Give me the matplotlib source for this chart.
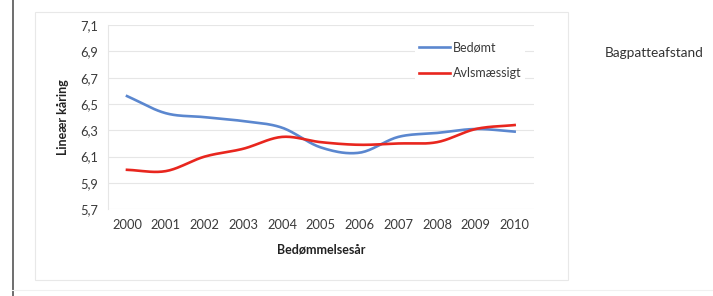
import matplotlib.pyplot as plt
import numpy as np
import matplotlib as mpl

###--- Data ---###
years = [2000, 2001, 2002, 2003, 2004, 2005, 2006, 2007, 2008, 2009, 2010]
bedomt = [6.56, 6.43, 6.40, 6.37, 6.32, 6.17, 6.13, 6.25, 6.28, 6.31, 6.29]
avl = [6.00, 5.99, 6.10, 6.16, 6.25, 6.21, 6.19, 6.20, 6.21, 6.31, 6.34]
yticks = [5.7, 5.9, 6.1, 6.3, 6.5, 6.7, 6.9, 7.1]


def smooth(x, y, n=20):
    # Catmull-Rom curve through the points (like Excel's smoothed line)
    x = np.asarray(x, float)
    y = np.asarray(y, float)
    px = np.concatenate([[2 * x[0] - x[1]], x, [2 * x[-1] - x[-2]]])
    py = np.concatenate([[2 * y[0] - y[1]], y, [2 * y[-1] - y[-2]]])
    t = np.linspace(0, 1, n, endpoint=False)
    xs, ys = [], []
    for i in range(1, len(px) - 2):
        for p, out in ((px, xs), (py, ys)):
            p0, p1, p2, p3 = p[i - 1], p[i], p[i + 1], p[i + 2]
            out.extend(0.5 * (2 * p1 + (-p0 + p2) * t
                              + (2 * p0 - 5 * p1 + 4 * p2 - p3) * t ** 2
                              + (-p0 + 3 * p1 - 3 * p2 + p3) * t ** 3))
    xs.append(x[-1])
    ys.append(y[-1])
    return np.array(xs), np.array(ys)


plt.rcParams['font.family'] = ['Lato', 'DejaVu Sans']

W, H = 713, 296
fig = plt.figure(figsize=(W / 100, H / 100), dpi=100)
ax = fig.add_axes([107.6 / W, 1 - 209.3 / H, (534 - 107.6) / W, (209.3 - 25) / H])

# outer chart frame and the scanned page edge
fig.add_artist(mpl.patches.Rectangle((35 / W, 1 - 280 / H), (568 - 35) / W, (280 - 12) / H,
                                     transform=fig.transFigure, fill=False,
                                     edgecolor='#e8e8e8', lw=0.8))
fig.add_artist(mpl.lines.Line2D([12.5 / W, 12.5 / W], [0, 1], transform=fig.transFigure,
                                color='#555555', lw=1.2))
fig.add_artist(mpl.lines.Line2D([12 / W, 1], [1 - 290 / H, 1 - 290 / H], transform=fig.transFigure,
                                color='#f0f0f0', lw=0.8))

xi = np.arange(len(years))
sx, sy = smooth(xi, bedomt)
ax.plot(sx, sy, color='#5b87cf', lw=1.9, label='Bedømt', zorder=3)
sx, sy = smooth(xi, avl)
ax.plot(sx, sy, color='#e8261e', lw=1.9, label='Avlsmæssigt', zorder=3)

ax.set_xlim(-0.5, len(years) - 0.5)
ax.set_ylim(5.7, 7.1)
ax.set_xticks(xi)
ax.set_xticklabels([str(y) for y in years])
ax.set_yticks(yticks)
ax.set_yticklabels([f'{v:.1f}'.replace('.', ',') for v in yticks])
ax.tick_params(length=0, labelsize=9.3, colors='#3a3a3a', pad=7)
ax.grid(axis='y', color='#e6e6e6', lw=0.8)
ax.set_axisbelow(True)
for s in ['top', 'right', 'bottom']:
    ax.spines[s].set_visible(False)
ax.spines['left'].set_color('#e6e6e6')

ax.set_ylabel('Lineær kåring', fontsize=9, fontweight='bold', color='#222222', labelpad=8)
ax.set_xlabel('Bedømmelsesår', fontsize=9, fontweight='bold', color='#222222', labelpad=9)

leg = ax.legend(loc='upper left', bbox_to_anchor=((415 - 107.6) / (534 - 107.6), 1 - (38 - 25) / (209.3 - 25)),
                frameon=True, fontsize=9, handlelength=2.5, handletextpad=0.2,
                labelspacing=1.05, borderaxespad=0, borderpad=0.3)
leg.get_frame().set_edgecolor('none')
leg.get_frame().set_facecolor('white')
leg.get_frame().set_alpha(1)
for t in leg.get_texts():
    t.set_color('#3a3a3a')

fig.text(605 / W, 1 - 53 / H, 'Bagpatteafstand', fontsize=9.8, color='#333333', va='center')

fig.savefig('out.png', dpi=100)
